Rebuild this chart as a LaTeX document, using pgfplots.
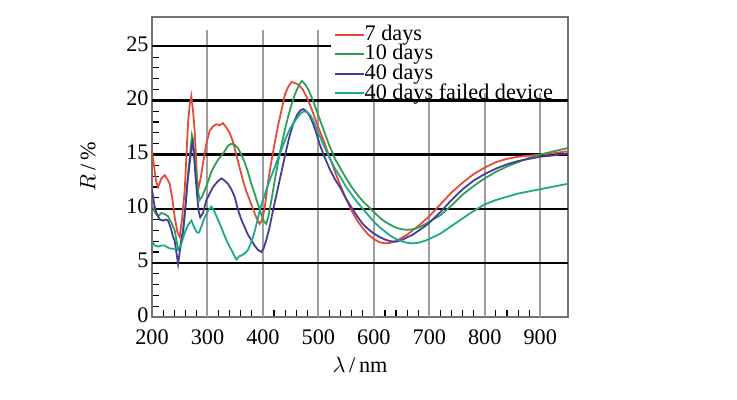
\documentclass[border=0pt]{standalone}
\usepackage{pgfplots}
\pgfplotsset{compat=1.18}
\usepackage{fontspec}
\setmainfont{Liberation Serif}
\definecolor{cRed}{RGB}{232,72,56}
\definecolor{cGreen}{RGB}{46,158,82}
\definecolor{cBlue}{RGB}{68,60,150}
\definecolor{cTeal}{RGB}{28,168,138}
\begin{document}
\begin{tikzpicture}
\useasboundingbox (0,0) rectangle (331.65pt,179.55pt);
\begin{axis}[
  at={(68.4pt,36.9pt)}, anchor=south west,
  scale only axis, width=187.2pt, height=135pt,
  xmin=200, xmax=950, ymin=0, ymax=27.7,
  axis line style={draw=gray!90!black, line width=0.7pt},
  xtick={200,300,...,900}, ytick={0,5,...,25},
  minor x tick num=4, minor y tick num=4,
  major tick length=0pt, minor tick length=3pt,
  tick style={black, line width=0.5pt},
  xtick pos=bottom, ytick pos=left,
  tick align=inside,
  /pgf/number format/assume math mode=true,
  ticklabel style={font=\normalsize},
  xticklabel style={yshift=-2pt},
  yticklabel style={xshift=2pt, yshift=1pt},
  xlabel={$\lambda$\,/\,nm}, ylabel={$R$\,/\,\%},
  xlabel style={yshift=1pt},
  ylabel style={yshift=7pt},
  legend style={draw=none, fill=none, at={(0.42,0.985)}, anchor=north west,
    nodes={inner sep=0pt, text height=6.3pt, text depth=1.2pt, anchor=west},
    row sep=1.3pt, font=\normalsize},
  legend cell align=left,
  legend image code/.code={\draw[#1, line width=0.9pt] (0pt,0pt) -- (13pt,0pt);},
  every axis plot/.append style={line width=0.8pt},
]
% grid
\pgfplotsinvokeforeach{300,400,500}{\draw[gray!75, line width=0.9pt] (axis cs:#1,0) -- (axis cs:#1,26.5);}
\pgfplotsinvokeforeach{600,700,800,900}{\draw[gray!75, line width=0.9pt] (axis cs:#1,0) -- (axis cs:#1,20.7);}
\pgfplotsinvokeforeach{5,10,15,20}{\draw[black, line width=1pt] (axis cs:200,#1) -- (axis cs:950,#1);}
\draw[black, line width=1pt] (axis cs:200,25) -- (axis cs:522,25);

\addplot[cRed] coordinates {
(200,15.3) (203,14.2) (207,12.6) (211,12.0) (217,12.8) (223,13.1) (228,12.7) (232,12.3)
(237,10.8) (241,9.2) (246,7.8) (250,7.4) (254,9.0) (259,11.7) (265,17.9) (268,19.6)
(271,20.4) (274,19.0) (277,17.2) (281,13.0) (283,11.7) (288,12.9) (292,14.2) (298,16.0)
(304,17.2) (310,17.6) (316,17.8) (322,17.7) (328,17.9) (334,17.5) (340,17.0) (346,16.2)
(352,15.0) (358,13.8) (364,12.6) (370,11.6) (376,10.8) (382,10.0) (388,9.2) (394,8.6)
(398,8.9) (403,10.0) (409,12.4) (415,14.3) (421,16.0) (427,17.6) (433,19.0) (440,20.6)
(446,21.3) (452,21.7) (458,21.6) (465,21.4) (472,21.0) (480,20.2) (490,18.9) (500,17.5)
(510,16.2) (520,14.8) (530,13.4) (540,12.1) (550,10.9) (560,9.8) (570,8.9) (580,8.2)
(590,7.6) (600,7.2) (610,6.9) (620,6.8) (630,6.85) (640,7.0) (650,7.3) (660,7.6)
(670,8.0) (680,8.4) (690,8.85) (700,9.3) (720,10.4) (740,11.5) (760,12.4) (780,13.2)
(800,13.8) (820,14.3) (840,14.6) (860,14.8) (880,14.9) (900,15.0) (920,15.1) (950,15.3)
};
\addlegendentry{7 days}

\addplot[cGreen] coordinates {
(200,10.3) (205,9.7) (211,9.3) (217,9.6) (223,9.5) (229,9.3) (235,8.7) (241,8.0)
(247,6.2) (251,6.4) (256,7.7) (260,10.0) (265,13.2) (269,15.2) (272,16.8) (274,16.4)
(277,14.6) (280,13.2) (283,11.6) (286,10.8) (290,11.1) (295,11.7) (301,12.5) (307,13.4)
(313,14.0) (319,14.5) (325,14.9) (331,15.3) (337,15.8) (343,16.0) (349,15.9) (355,15.6)
(361,15.0) (367,14.3) (373,13.4) (379,12.3) (385,11.4) (391,10.4) (397,9.5) (402,8.8)
(406,8.6) (410,9.3) (416,11.0) (422,12.8) (428,14.5) (434,16.0) (440,17.4) (446,18.6)
(452,19.7) (458,20.6) (464,21.3) (470,21.8) (476,21.5) (482,21.0) (490,20.0) (500,18.6)
(510,17.2) (520,15.8) (530,14.6) (540,13.7) (550,12.8) (560,12.0) (570,11.3) (580,10.7)
(590,10.2) (600,9.7) (610,9.2) (620,8.8) (630,8.5) (640,8.25) (650,8.1) (660,8.05)
(670,8.1) (680,8.25) (690,8.5) (700,8.8) (720,9.4) (740,10.3) (760,11.3) (780,12.1)
(800,12.8) (820,13.4) (840,13.9) (860,14.3) (880,14.7) (900,15.0) (920,15.25) (950,15.6)
};
\addlegendentry{10 days}

\addplot[cBlue] coordinates {
(200,11.8) (204,10.4) (208,9.6) (214,9.0) (220,8.9) (225,9.0) (229,8.9) (234,8.2)
(238,7.4) (241,7.0) (245,5.6) (247,4.9) (250,6.0) (253,7.2) (256,8.0) (260,10.0)
(264,12.4) (268,14.2) (271,15.5) (273,16.1) (275,15.4) (278,13.3) (281,11.4) (284,9.8)
(287,9.2) (292,9.6) (298,10.8) (304,11.4) (310,12.0) (318,12.5) (325,12.8) (331,12.6)
(337,12.3) (343,11.8) (349,11.1) (355,9.9) (361,9.0) (367,8.3) (373,7.6) (379,7.1)
(385,6.6) (391,6.2) (397,6.0) (401,6.3) (406,7.1) (412,8.3) (418,9.8) (424,11.2)
(430,12.6) (436,14.0) (442,15.4) (448,16.7) (455,17.9) (462,18.7) (468,19.1) (473,19.2)
(478,19.0) (484,18.6) (490,17.9) (496,17.0) (502,16.0) (510,14.9) (520,13.7) (530,12.7)
(540,11.9) (550,10.9) (560,10.1) (570,9.3) (580,8.6) (590,8.1) (600,7.7) (610,7.4)
(620,7.15) (630,7.0) (640,6.95) (650,7.1) (660,7.35) (670,7.6) (680,7.95) (690,8.3)
(700,8.7) (720,9.7) (740,10.8) (760,11.8) (780,12.6) (800,13.2) (820,13.7) (840,14.1)
(860,14.4) (880,14.6) (900,14.8) (920,14.9) (950,15.1)
};
\addlegendentry{40 days}

\addplot[cTeal] coordinates {
(200,7.0) (205,6.6) (211,6.5) (217,6.6) (223,6.6) (229,6.4) (235,6.3) (241,6.3)
(247,6.3) (252,6.6) (256,7.3) (260,7.9) (265,8.5) (271,8.9) (276,8.3) (281,7.8)
(285,7.8) (290,8.5) (295,9.2) (301,9.8) (307,10.2) (312,9.8) (318,9.1) (324,8.4)
(330,7.6) (336,6.9) (342,6.3) (348,5.7) (352,5.3) (357,5.6) (362,5.7) (368,5.9)
(373,6.2) (379,6.9) (385,7.9) (390,8.9) (395,10.0) (400,10.8) (406,11.7) (412,12.6)
(418,13.4) (424,14.2) (430,15.0) (436,15.8) (442,16.6) (448,17.3) (455,17.9) (462,18.4)
(468,18.8) (474,19.0) (480,18.9) (486,18.6) (492,18.0) (500,17.0) (510,15.8) (520,14.7)
(530,13.7) (540,12.9) (550,12.0) (560,11.3) (570,10.6) (580,10.0) (590,9.4) (600,8.8)
(610,8.3) (620,7.9) (630,7.5) (640,7.2) (650,7.0) (660,6.85) (670,6.8) (680,6.85)
(690,7.0) (700,7.2) (720,7.7) (740,8.4) (760,9.1) (780,9.8) (800,10.4) (820,10.8)
(840,11.1) (860,11.4) (880,11.6) (900,11.8) (920,12.0) (950,12.3)
};
\addlegendentry{40 days failed device}
\end{axis}
\end{tikzpicture}
\end{document}
